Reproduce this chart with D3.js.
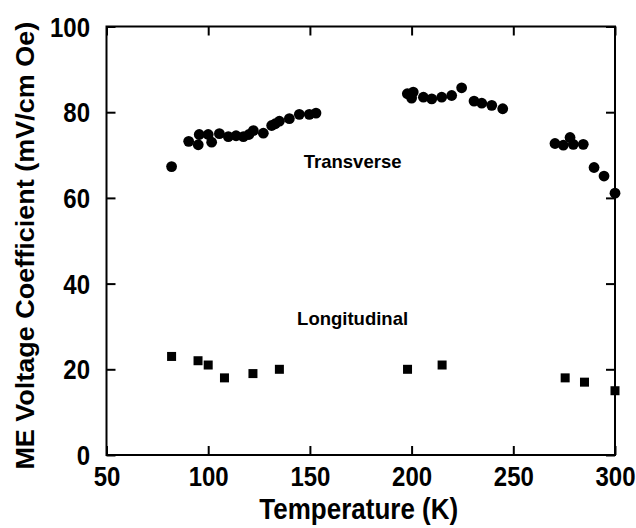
<!DOCTYPE html>
<html>
<head>
<meta charset="utf-8">
<script src="https://cdn.jsdelivr.net/npm/d3@7"></script>
<style>
  body { margin: 0; background: #fff; }
  text { font-family: "Liberation Sans", Arial, sans-serif; font-weight: bold; fill: #000; }
</style>
</head>
<body>
<div id="chart"></div>
<script>
'use strict';

// transverse ME coefficient (circles)
const transverseTemp = [82, 90.4, 95.1, 95.6, 100, 101.7, 105.5, 109.9, 113.7, 117.3, 120, 122.2, 127.1, 131.2, 133, 135, 139.9, 144.8, 149.7, 153,
                        197.9, 200.8, 200, 205.8, 209.9, 214.8, 219.7, 224.6, 230.7, 234.5, 239.4, 244.8,
                        270.5, 274.6, 277.9, 279.5, 284.4, 289.7, 294.6, 300];
const transverseValue = [67.3, 73.2, 72.4, 74.8, 74.8, 73.0, 75.0, 74.3, 74.5, 74.3, 74.8, 75.7, 75.1, 76.9, 77.3, 77.9, 78.5, 79.5, 79.5, 79.8,
                         84.3, 84.7, 83.3, 83.5, 83.1, 83.5, 83.9, 85.7, 82.6, 82.1, 81.6, 80.8,
                         72.7, 72.3, 74.1, 72.5, 72.5, 67.1, 65.1, 61.1];

// longitudinal ME coefficient (squares)
const longitudinalTemp = [82, 95, 100, 108, 122, 135, 198, 215, 275.5, 285, 300];
const longitudinalValue = [23, 22, 21, 18, 19, 20, 20, 21, 18, 17, 15];

const xTicks = [50, 100, 150, 200, 250, 300];
const yTicks = [0, 20, 40, 60, 80, 100];

const width = 636, height = 528;
const margin = {left: 106.5, right: 21, top: 26.5, bottom: 73};
const stretch = 1.12;   // the original lettering is a little taller than wide

let svg = d3.select("#chart")
    .append("svg")
    .attr("width", width)
    .attr("height", height);

let x = d3.scaleLinear().domain([50, 300]).range([margin.left, width - margin.right]);
let y = d3.scaleLinear().domain([0, 100]).range([height - margin.bottom, margin.top]);

// axes with inward ticks on all four sides
function styleAxis(g) {
    g.select(".domain").remove();
    g.selectAll(".tick line").attr("stroke", "#000").attr("stroke-width", 2);
    g.selectAll(".tick text").style("font-size", "24px").attr("fill", "#000");
}

svg.append("g")
    .attr("transform", "translate(0," + y(0) + ")")
    .call(d3.axisBottom(x).tickValues(xTicks).tickSize(-9))
    .call(styleAxis)
    .selectAll(".tick text")
        .attr("y", 0)
        .attr("dy", 0)
        .attr("transform", "translate(0,31) scale(1," + stretch + ")");

svg.append("g")
    .attr("transform", "translate(0," + y(100) + ")")
    .call(d3.axisTop(x).tickValues(xTicks).tickSize(-9).tickFormat(""))
    .call(styleAxis);

svg.append("g")
    .attr("transform", "translate(" + x(50) + ",0)")
    .call(d3.axisLeft(y).tickValues(yTicks).tickSize(-9))
    .call(styleAxis)
    .selectAll(".tick text")
        .attr("x", 0)
        .attr("dy", 0)
        .attr("transform", "translate(-16.5,9.6) scale(1," + stretch + ")");

svg.append("g")
    .attr("transform", "translate(" + x(300) + ",0)")
    .call(d3.axisRight(y).tickValues(yTicks).tickSize(-9).tickFormat(""))
    .call(styleAxis);

// frame
svg.append("rect")
    .attr("x", x(50))
    .attr("y", y(100))
    .attr("width", x(300) - x(50))
    .attr("height", y(0) - y(100))
    .attr("fill", "none")
    .attr("stroke", "#000")
    .attr("stroke-width", 2);

// data points
svg.selectAll("circle.transverse")
    .data(d3.zip(transverseTemp, transverseValue))
    .enter()
    .append("circle")
    .classed("transverse", true)
    .attr("cx", d => x(d[0]))
    .attr("cy", d => y(d[1]))
    .attr("r", 5.4)
    .attr("fill", "#000");

const sq = 9;
svg.selectAll("rect.longitudinal")
    .data(d3.zip(longitudinalTemp, longitudinalValue))
    .enter()
    .append("rect")
    .classed("longitudinal", true)
    .attr("x", d => x(d[0]) - sq / 2)
    .attr("y", d => y(d[1]) - sq / 2)
    .attr("width", sq)
    .attr("height", sq)
    .attr("fill", "#000");

// series labels
svg.append("text")
    .attr("x", x(171))
    .attr("y", y(66.9))
    .attr("text-anchor", "middle")
    .style("font-size", "18.5px")
    .text("Transverse");

svg.append("text")
    .attr("x", x(171))
    .attr("y", y(30.3))
    .attr("text-anchor", "middle")
    .style("font-size", "18.5px")
    .text("Longitudinal");

// axis titles
svg.append("text")
    .attr("transform", "translate(" + ((x(50) + x(300)) / 2 - 2) + ",519) scale(1," + stretch + ")")
    .attr("text-anchor", "middle")
    .style("font-size", "26px")
    .text("Temperature (K)");

svg.append("text")
    .attr("transform", "translate(34," + (y(50) + 5) + ") rotate(-90) scale(1.08,1)")
    .attr("text-anchor", "middle")
    .style("font-size", "25px")
    .text("ME Voltage Coefficient (mV/cm Oe)");
</script>
</body>
</html>
